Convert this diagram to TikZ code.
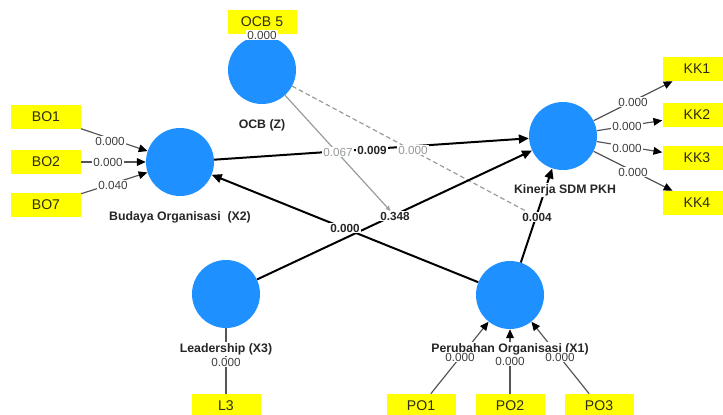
\documentclass[tikz,border=0pt]{standalone}
\usepackage{fontspec}
\setmainfont{Liberation Sans}
\usetikzlibrary{arrows.meta}
\definecolor{lvblue}{RGB}{30,144,255}
\definecolor{indyellow}{RGB}{255,255,0}
\definecolor{lingray}{RGB}{85,85,85}
\definecolor{modgray}{RGB}{150,156,150}
\definecolor{boxtext}{RGB}{45,45,20}
\pgfdeclarelayer{back}
\pgfdeclarelayer{bg}
\pgfsetlayers{back,bg,main}
\begin{document}
\begin{tikzpicture}[x=0.03cm,y=-0.03cm,
  latent/.style={circle,fill=lvblue,draw=none,minimum size=2.04cm,inner sep=0pt},
  indbox/.style={rectangle,fill=indyellow,draw=none,minimum width=2.07cm,minimum height=0.72cm,inner sep=0pt,font=\fontsize{12}{14}\selectfont,text=boxtext},
  clabel/.style={fill=white,inner sep=1pt,font=\fontsize{10.5}{12}\selectfont\bfseries,text=black!85},
  ilabel/.style={fill=white,inner sep=0.8pt,font=\fontsize{10}{11}\selectfont,text=black!75},
  plabel/.style={fill=white,inner sep=0.8pt,font=\fontsize{10}{11}\selectfont\bfseries,text=black!85},
  mlabel/.style={fill=white,inner sep=0.8pt,font=\fontsize{10}{11}\selectfont,text=modgray},
  structural/.style={draw=black,line width=1.7pt,-{Triangle[length=8.5pt,width=7.5pt]}},
  indline/.style={draw=lingray,line width=1pt},
  indarrow/.style={draw=lingray,line width=1pt,-{Triangle[length=7.5pt,width=6.5pt,color=black]}},
  modline/.style={draw=modgray,line width=1pt}
]
\begin{pgfonlayer}{back}
  \fill[white] (0,0) rectangle (723,414);
\end{pgfonlayer}
\useasboundingbox (0,0) rectangle (723,414);

% latent variables
\node[latent] (ocb)  at (262,70)  {};
\node[latent] (bud)  at (180,162) {};
\node[latent] (kin)  at (563,136) {};
\node[latent] (lead) at (226,294) {};
\node[latent] (po)   at (510,295) {};

% indicator boxes
\node[indbox] (ocb5) at (262,21.5) {OCB 5};
\node[indbox] (bo1) at (46,117) {BO1};
\node[indbox] (bo2) at (46,162) {BO2};
\node[indbox] (bo7) at (46,205) {BO7};
\node[indbox] (kk1) at (697,69)  {KK1};
\node[indbox] (kk2) at (697,115) {KK2};
\node[indbox] (kk3) at (697,158) {KK3};
\node[indbox] (kk4) at (697,203) {KK4};
\node[indbox] (l3)  at (226,406) {L3};
\node[indbox] (po1) at (421,406) {PO1};
\node[indbox] (po2) at (510,406) {PO2};
\node[indbox] (po3) at (599,406) {PO3};

% construct labels
\node[clabel] (ocbl)  at (262,125) {OCB (Z)};
\node[clabel] (budl)  at (180,217) {Budaya Organisasi\ \ (X2)};
\node[clabel] (kinl)  at (565,190) {Kinerja SDM PKH};
\node[clabel] (leadl) at (226,349) {Leadership (X3)};
\node[clabel] (pol)   at (510,349) {Perubahan Organisasi (X1)};

% indicator values
\node[ilabel] (vocb5) at (262,35)  {0.000};
\node[ilabel] (vbo1)  at (110,141) {0.000};
\node[ilabel] (vbo2)  at (108,162) {0.000};
\node[ilabel] (vbo7)  at (113,185) {0.040};
\node[ilabel] (vkk1)  at (633,102) {0.000};
\node[ilabel] (vkk2)  at (627,126) {0.000};
\node[ilabel] (vkk3)  at (627,148) {0.000};
\node[ilabel] (vkk4)  at (633,172) {0.000};
\node[ilabel] (vl3)   at (226,362) {0.000};
\node[ilabel] (vpo1)  at (460,357) {0.000};
\node[ilabel] (vpo2)  at (510,361) {0.000};
\node[ilabel] (vpo3)  at (560,357) {0.000};

% path coefficients
\node[plabel] (pbk)  at (372,150) {0.009};
\node[plabel] (ppb)  at (345,228) {0.000};
\node[plabel] (plk)  at (395,216) {0.348};
\node[plabel] (ppk)  at (537,217) {0.004};
\node[mlabel] (m1)   at (338,152) {0.067};
\node[mlabel] (m2)   at (413,150) {0.000};

\begin{pgfonlayer}{bg}
  % indicators
  \draw[indline] (ocb5) -- (ocb);
  \draw[indarrow] (bo1) -- (bud);
  \draw[indarrow] (bo2) -- (bud);
  \draw[indarrow] (bo7) -- (bud);
  \draw[indarrow] (kin) -- (kk1);
  \draw[indarrow] (kin) -- (kk2);
  \draw[indarrow] (kin) -- (kk3);
  \draw[indarrow] (kin) -- (kk4);
  \draw[indline] (l3) -- (lead);
  \draw[indarrow] (po1) -- (po);
  \draw[indarrow] (po2) -- (po);
  \draw[indarrow] (po3) -- (po);
  % moderation
  \draw[modline,-{To[length=4pt,width=4pt]}] (ocb) -- (plk);
  \draw[modline,dashed,dash pattern=on 4pt off 2.5pt] (ocb) -- (ppk);
  % structural
  \draw[structural] (bud) -- (kin);
  \draw[structural] (po) -- (bud);
  \draw[structural] (lead) -- (kin);
  \draw[structural] (po) -- (kin);
\end{pgfonlayer}
\end{tikzpicture}
\end{document}
